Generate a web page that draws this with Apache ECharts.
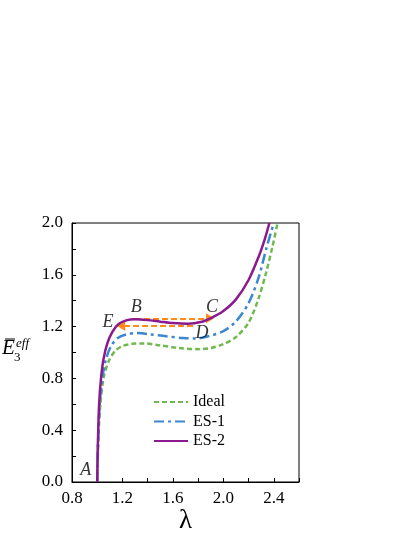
<!DOCTYPE html>
<html>
<head>
<meta charset="utf-8">
<script src="https://cdn.jsdelivr.net/npm/echarts@6/dist/echarts.min.js"></script>
<style>html,body{margin:0;padding:0;background:#fff;}#c{width:415px;height:537px;}</style>
</head>
<body>
<div id="c"></div>
<script>
// Data
var idealLam = [1.0, 1.005, 1.012, 1.025, 1.05, 1.09, 1.14, 1.2, 1.28, 1.37, 1.5, 1.65, 1.8, 1.9, 2.0, 2.1, 2.2, 2.28, 2.34, 2.39, 2.43];
var idealE   = [0, 0.2, 0.4, 0.6, 0.8, 0.93, 1.01, 1.05, 1.067, 1.07, 1.055, 1.035, 1.026, 1.035, 1.064, 1.12, 1.23, 1.42, 1.62, 1.82, 2.0];
var es1Lam = [1.0, 1.004, 1.01, 1.02, 1.04, 1.07, 1.11, 1.16, 1.23, 1.32, 1.42, 1.55, 1.68, 1.78, 1.88, 2.0, 2.1, 2.2, 2.28, 2.34, 2.40];
var es1E   = [0, 0.2, 0.4, 0.6, 0.8, 0.95, 1.05, 1.11, 1.14, 1.15, 1.14, 1.125, 1.112, 1.108, 1.125, 1.165, 1.24, 1.38, 1.58, 1.8, 2.0];
var es2Lam = [1.0, 1.003, 1.008, 1.015, 1.03, 1.05, 1.08, 1.12, 1.17, 1.23, 1.30, 1.40, 1.50, 1.60, 1.72, 1.82, 1.91, 2.0, 2.1, 2.2, 2.28, 2.33, 2.365];
var es2E   = [0, 0.2, 0.4, 0.6, 0.8, 0.95, 1.07, 1.16, 1.22, 1.248, 1.256, 1.25, 1.238, 1.227, 1.222, 1.235, 1.27, 1.32, 1.41, 1.56, 1.74, 1.88, 2.0];
var seriesNames = ['Ideal', 'ES-1', 'ES-2'];
// Snap-through arrows: B -> C and D -> E
var arrowBC = [[1.30, 1.264], [1.895, 1.264]];
var arrowDE = [[1.76, 1.205], [1.19, 1.205]];
// Point labels
var ptNames = ['A', 'B', 'C', 'D', 'E'];
var ptLam = [0.91, 1.31, 1.91, 1.83, 1.085];
var ptE   = [0.09, 1.35, 1.35, 1.15, 1.23];
var xTicks = [0.8, 1.2, 1.6, 2.0, 2.4];
var yTicks = [0.0, 0.4, 0.8, 1.2, 1.6, 2.0];

function zip(a, b) { return a.map(function (v, i) { return [v, b[i]]; }); }
function inList(v, list) { return list.some(function (t) { return Math.abs(t - v) < 1e-6; }); }

var serif = '"Liberation Serif", "Times New Roman", Times, serif';
var chart = echarts.init(document.getElementById('c'));
chart.setOption({
  animation: false,
  backgroundColor: '#fff',
  grid: { left: 72, right: 116, top: 223, bottom: 55, show: true, borderColor: '#000', borderWidth: 1, backgroundColor: 'transparent' },
  xAxis: {
    type: 'value', min: 0.8, max: 2.6, interval: 0.2,
    name: 'λ', nameLocation: 'middle', nameGap: 22,
    nameTextStyle: { fontFamily: serif, fontSize: 27, color: '#000' },
    axisLine: { lineStyle: { color: '#000', width: 1 } },
    axisTick: { inside: true, length: 4, lineStyle: { color: '#000' } },
    axisLabel: { margin: 8, fontFamily: serif, fontSize: 17, color: '#000',
      formatter: function (v) { return inList(v, xTicks) ? v.toFixed(1) : ''; } },
    splitLine: { show: false }
  },
  yAxis: {
    type: 'value', min: 0, max: 2.0, interval: 0.2,
    axisLine: { show: true, lineStyle: { color: '#000', width: 1 } },
    axisTick: { show: true, inside: true, length: 4, lineStyle: { color: '#000' } },
    axisLabel: { margin: 9, fontFamily: serif, fontSize: 17, color: '#000',
      formatter: function (v) { return inList(v, yTicks) ? v.toFixed(1) : ''; } },
    splitLine: { show: false }
  },
  legend: {
    orient: 'vertical', left: 153, top: 394, padding: 0, itemWidth: 34, itemHeight: 14, itemGap: 3.5,
    data: seriesNames,
    itemStyle: { opacity: 0 },
    textStyle: { fontFamily: serif, fontSize: 16, lineHeight: 14, color: '#000' }
  },
  series: [
    { name: seriesNames[0], type: 'line', smooth: 0.3, symbol: 'none', data: zip(idealLam, idealE),
      lineStyle: { color: '#71B94F', width: 2.5, type: [5, 3] }, itemStyle: { color: '#71B94F' }, z: 3 },
    { name: seriesNames[1], type: 'line', smooth: 0.3, symbol: 'none', data: zip(es1Lam, es1E),
      lineStyle: { color: '#3D87D2', width: 2.5, type: [10, 4, 3, 4] }, itemStyle: { color: '#3D87D2' }, z: 4 },
    { name: seriesNames[2], type: 'line', smooth: 0.3, symbol: 'none', data: zip(es2Lam, es2E),
      lineStyle: { color: '#8A1A8E', width: 2.5 }, itemStyle: { color: '#8A1A8E' }, z: 5,
      markLine: {
        silent: true, symbol: ['none', 'triangle'], symbolSize: [10, 8], precision: 3,
        label: { show: false },
        lineStyle: { color: '#FF8C1A', width: 2, type: [6, 3] },
        data: [
          [{ coord: arrowBC[0] }, { coord: arrowBC[1], symbolRotate: -90 }],
          [{ coord: arrowDE[0] }, { coord: arrowDE[1], symbolRotate: 90 }]
        ]
      }
    },
    { type: 'scatter', symbolSize: 0, silent: true, z: 6,
      data: ptNames.map(function (n, i) { return { name: n, value: [ptLam[i], ptE[i]] }; }),
      label: { show: true, position: 'inside', formatter: '{b}', fontFamily: serif, fontStyle: 'italic', fontSize: 18, color: '#000' } }
  ],
  graphic: [
    { type: 'text', left: 2, top: 338, style: { text: 'E', font: 'italic 21px "Liberation Serif", serif', fill: '#000' } },
    { type: 'line', shape: { x1: 5, y1: 339, x2: 15, y2: 339 }, style: { stroke: '#000', lineWidth: 1 } },
    { type: 'text', left: 16, top: 337, style: { text: 'eff', font: 'italic 13px "Liberation Serif", serif', fill: '#000' } },
    { type: 'text', left: 14, top: 351, style: { text: '3', font: '13px "Liberation Serif", serif', fill: '#000' } }
  ]
});
</script>
</body>
</html>
